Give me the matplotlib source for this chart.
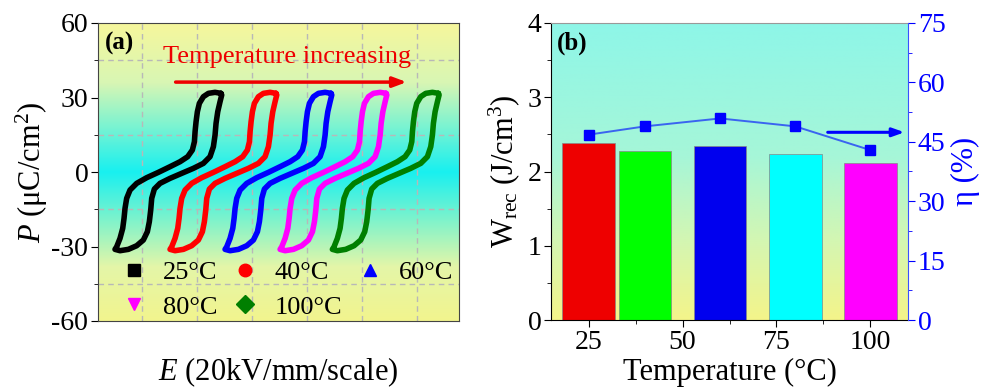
import numpy as np
import matplotlib
matplotlib.use("Agg")
import matplotlib.pyplot as plt
from matplotlib.colors import LinearSegmentedColormap
from matplotlib.lines import Line2D
from matplotlib.ticker import MultipleLocator

plt.rcParams['font.family'] = ['Liberation Serif', 'DejaVu Serif']
plt.rcParams['mathtext.fontset'] = 'custom'
plt.rcParams['mathtext.rm'] = 'Liberation Serif'
plt.rcParams['mathtext.it'] = 'Liberation Serif:italic'
plt.rcParams['mathtext.bf'] = 'Liberation Serif:bold'
plt.rcParams['axes.unicode_minus'] = False

# ---- panel (a): P-E loops (outline of the 25 C loop, shifted per temperature)
loop_E = [2.436, 2.327, 2.206, 2.115, 2.042, 2.006, 1.982, 1.964, 1.952, 1.915,
          1.830, 1.691, 1.509, 1.297, 1.085, 0.903, 0.782, 0.721, 0.691, 0.673,
          0.649, 0.600, 0.540, 0.509, 0.600, 0.752, 0.903, 1.024, 1.097, 1.133,
          1.158, 1.176, 1.224, 1.327, 1.509, 1.721, 1.933, 2.115, 2.236, 2.297,
          2.327, 2.345, 2.376, 2.418, 2.448, 2.436]
loop_P = [31.67, 32.08, 31.67, 30.33, 27.65, 24.29, 20.26, 16.24, 12.21, 8.85,
          6.17, 4.15, 2.14, -0.14, -2.29, -4.57, -7.26, -10.61, -14.64, -18.67,
          -22.70, -26.72, -30.08, -31.15, -31.69, -31.15, -29.68, -27.39, -24.04, -20.01,
          -15.31, -10.61, -6.85, -4.57, -2.56, -0.54, 1.47, 3.48, 6.17, 10.20,
          14.89, 19.59, 24.29, 28.32, 31.0, 31.67]
temps_a = ['25°C', '40°C', '60°C', '80°C', '100°C']
E_shift = [0.0, 1.0, 2.0, 3.0, 3.95]
loop_colors = ['black', '#ff0000', '#0000ff', '#ff00ff', '#007f00']
loop_markers = ['s', 'o', '^', 'v', 'D']

# ---- panel (b): energy storage
T_b = [25, 40, 60, 80, 100]
W_rec = [2.38, 2.28, 2.35, 2.24, 2.12]
eta = [46.8, 48.9, 50.9, 48.9, 42.9]
bar_colors = ['#ee0000', '#00ff00', '#0000ee', '#00ffff', '#ff00ff']

fig = plt.figure(figsize=(9.85, 3.91), dpi=100)

# gradient backgrounds
grad_a = LinearSegmentedColormap.from_list(
    'ga', [(0, '#f2f48e'), (0.18, '#e4f6a8'), (0.5, '#18f0f0'), (0.8, '#d8f6b4'), (1, '#f6f79c')])
grad_b = LinearSegmentedColormap.from_list(
    'gb', [(0, '#f4f48a'), (0.25, '#d6f6b0'), (0.55, '#a6f6d8'), (1, '#8ef6e8')])
g = np.linspace(0, 1, 256).reshape(-1, 1)

ax1 = fig.add_axes([98/985, 1-321/391, 361/985, 298/391])
ax1.imshow(g, cmap=grad_a, aspect='auto', origin='lower', extent=[0, 1, 0, 1],
           transform=ax1.transAxes, zorder=0)

for i in range(len(temps_a)):
    E = np.array(loop_E) + E_shift[i]
    ax1.plot(E, loop_P, color=loop_colors[i], lw=4.0, solid_joinstyle='round',
             solid_capstyle='round', zorder=3)

ax1.set_xlim(0.2, 6.76)
ax1.set_ylim(-60, 60)
ax1.set_xticks([1, 2, 3, 4, 5, 6])
ax1.set_xticklabels([])
ax1.tick_params(axis='x', length=0)
ax1.set_yticks([-60, -30, 0, 30, 60])
ax1.yaxis.set_minor_locator(MultipleLocator(15))
ax1.tick_params(axis='y', which='major', direction='out', length=5, labelsize=20, pad=2)
ax1.tick_params(axis='y', which='minor', direction='out', length=3)
ax1.grid(True, axis='x', color='#b8b8b8', ls=(0, (4, 3)), lw=1, zorder=1)
ax1.grid(True, axis='y', which='minor', color='#b8b8b8', ls=(0, (4, 3)), lw=1, zorder=1)
for s in ax1.spines.values():
    s.set_color('#444444')
ax1.set_ylabel(r'$\it{P}$ (μC/cm$^2$)', fontsize=22, labelpad=1)
ax1.set_xlabel(r'$\it{E}$ (20kV/mm/scale)', fontsize=22, labelpad=21)

ax1.text(0.02, 0.93, '(a)', transform=ax1.transAxes, fontsize=18, fontweight='bold',
         va='center', ha='left', zorder=5)
ax1.text(3.64, 46.3, 'Temperature increasing', color='#ee0000', fontsize=19,
         ha='center', va='center', zorder=5)
ax1.annotate('', xy=(5.86, 36.2), xytext=(1.56, 36.2),
             arrowprops=dict(arrowstyle='-|>,head_length=0.8,head_width=0.3',
                             color='#ee0000', lw=2.5), zorder=5)

handles = [Line2D([], [], ls='none', marker=loop_markers[i], color=loop_colors[i],
                  markersize=9, label=temps_a[i]) for i in range(5)]
order = [0, 3, 1, 4, 2]
ax1.legend([handles[k] for k in order], [temps_a[k] for k in order], ncol=3,
           loc='lower left', bbox_to_anchor=(0.02, -0.045), frameon=False,
           fontsize=19, handlelength=1.0, handletextpad=0.6, columnspacing=0.55,
           labelspacing=0.42, borderaxespad=0.2)

# ---- panel (b)
ax2 = fig.add_axes([551/985, 1-320/391, 357/985, 297/391])
ax2.imshow(g, cmap=grad_b, aspect='auto', origin='lower', extent=[0, 1, 0, 1],
           transform=ax2.transAxes, zorder=0)
ax2.bar(T_b, W_rec, width=14, color=bar_colors, edgecolor='#888888', lw=0.5, zorder=2)
ax2.set_xlim(15, 110)
ax2.set_ylim(0, 4)
ax2.set_xticks([25, 50, 75, 100])
ax2.xaxis.set_minor_locator(MultipleLocator(12.5))
ax2.set_yticks([0, 1, 2, 3, 4])
ax2.yaxis.set_minor_locator(MultipleLocator(0.5))
ax2.tick_params(which='major', direction='out', length=5, labelsize=20, pad=2)
ax2.tick_params(which='minor', direction='out', length=3)
ax2.spines['top'].set_color('#999999')
ax2.spines['right'].set_visible(False)
ax2.set_ylabel(r'W$_{\rm rec}$ (J/cm$^3$)', fontsize=22, labelpad=4)
ax2.set_xlabel('Temperature (°C)', fontsize=22, labelpad=2)
ax2.text(0.017, 0.933, '(b)', transform=ax2.transAxes, fontsize=18, fontweight='bold',
         va='center', ha='left', zorder=5)

ax3 = ax2.twinx()
ax3.plot(T_b, eta, color='#3a64f0', lw=1.4, marker='s', markersize=7,
         markerfacecolor='#0000ff', markeredgecolor='#0000ff', zorder=4)
ax3.set_ylim(0, 75)
ax3.set_yticks([0, 15, 30, 45, 60, 75])
ax3.yaxis.set_minor_locator(MultipleLocator(7.5))
ax3.tick_params(which='major', direction='out', length=5, labelsize=20, pad=2,
                colors='#0000ff')
ax3.tick_params(which='minor', direction='out', length=3, colors='#0000ff')
for k in ['left', 'top', 'bottom']:
    ax3.spines[k].set_visible(False)
ax3.spines['right'].set_color('#3a50ff')
ax3.set_ylabel('η (%)', fontsize=22, color='#0000ff', labelpad=4)
ax3.annotate('', xy=(109.8, 47.4), xytext=(87.9, 47.4),
             arrowprops=dict(arrowstyle='-|>,head_length=0.7,head_width=0.25',
                             color='#0000ff', lw=2.2))

fig.savefig('out.png', dpi=100)
